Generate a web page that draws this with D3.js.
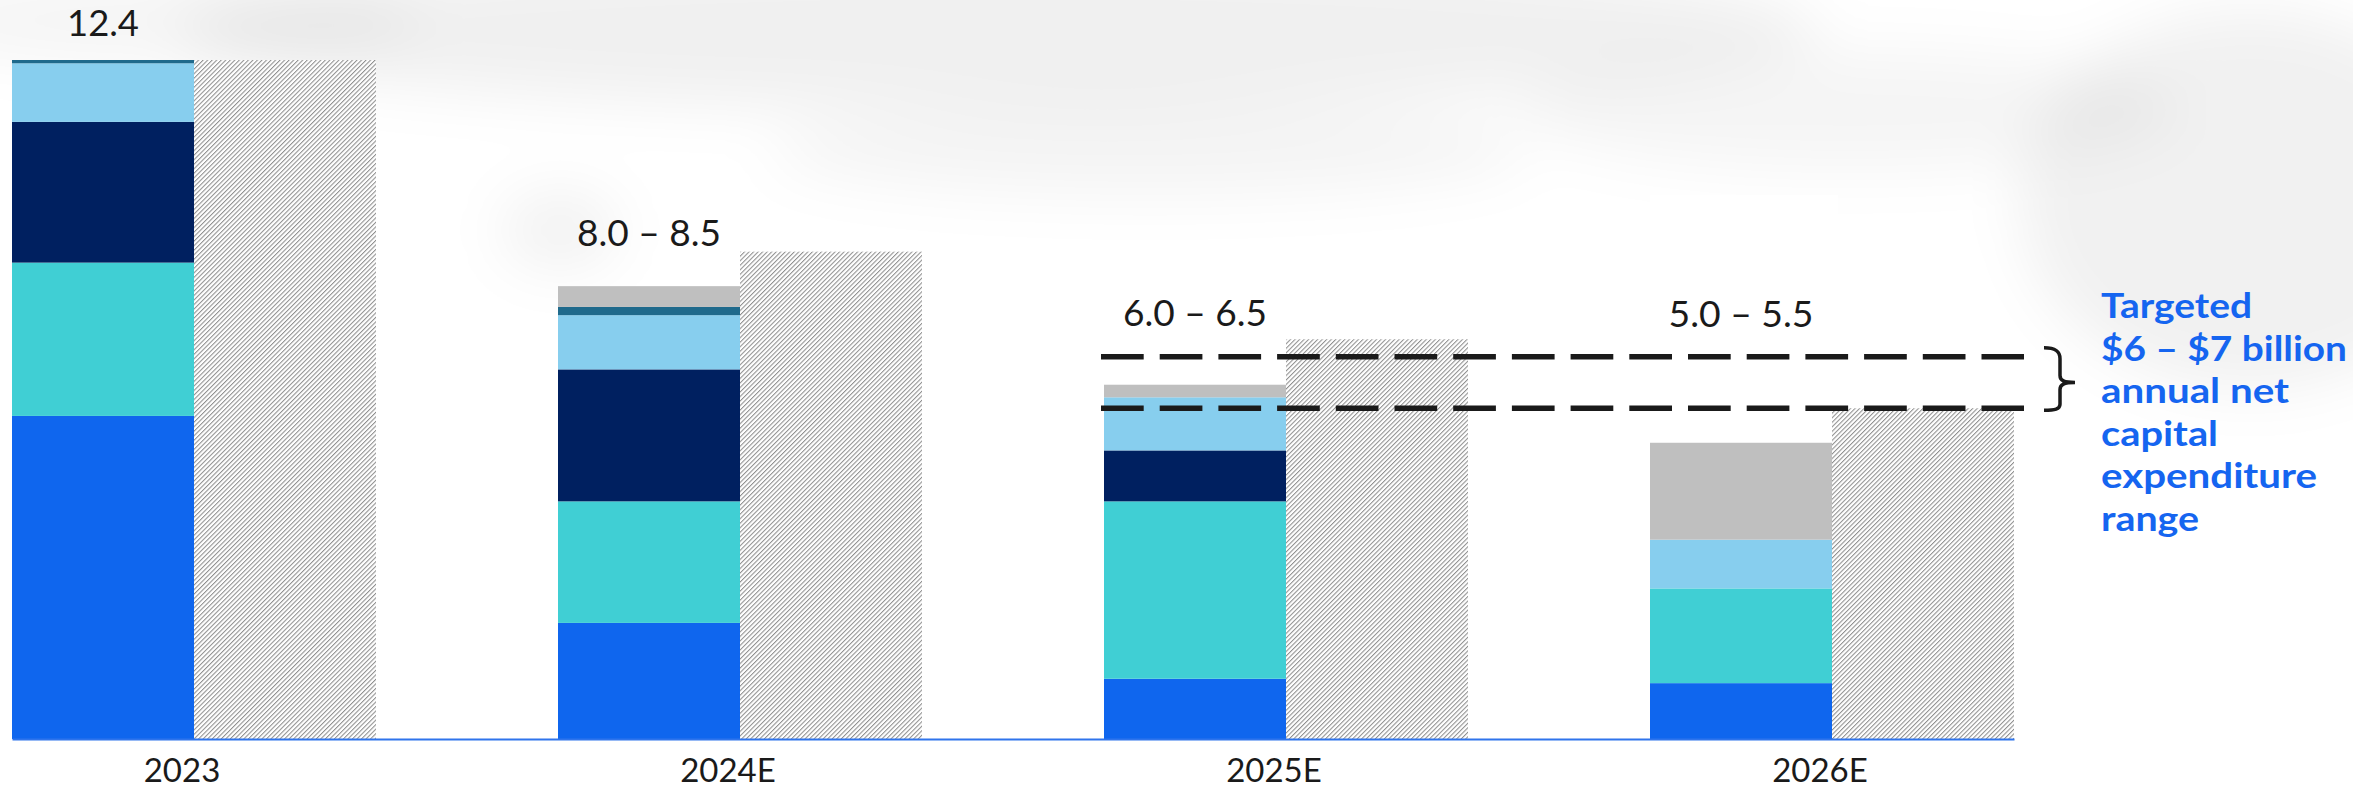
<!DOCTYPE html>
<html>
<head>
<meta charset="utf-8">
<script src="https://cdn.jsdelivr.net/npm/d3@7"></script>
<style>
  html, body { margin: 0; padding: 0; background: #fff; }
  svg { display: block; }
</style>
</head>
<body>
<svg id="chart" width="2353" height="789"></svg>
<script>
// ---------------- DATA ----------------
const categories = ["2023", "2024E", "2025E", "2026E"];
const seriesNames = ["Segment A", "Segment B", "Segment C", "Segment D", "Segment E", "Segment F"];
const segmentAValues = [5.90, 2.12, 1.10, 1.02];   // bright blue (bottom)
const segmentBValues = [2.80, 2.22, 3.24, 1.73];   // teal
const segmentCValues = [2.57, 2.41, 0.93, 0.00];   // navy
const segmentDValues = [1.07, 0.99, 0.97, 0.89];   // light blue
const segmentEValues = [0.06, 0.15, 0.00, 0.00];   // dark teal
const segmentFValues = [0.00, 0.38, 0.23, 1.77];   // gray (top)
const hatchedValues  = [12.4, 8.90, 7.30, 6.04];
const totalLabels = ["12.4", "8.0 \u2013 8.5", "6.0 \u2013 6.5", "5.0 \u2013 5.5"];
const targetRange = [6.04, 6.98];
const annotationLines = ["Targeted", "$6 \u2013 $7 billion", "annual net", "capital", "expenditure", "range"];

// ---------------- STYLE / LAYOUT ----------------
const colors = ["#0F66EE", "#40CFD4", "#002060", "#87CEEE", "#1F6A8C", "#BFBFBF"];
const svg = d3.select("#chart");
const baseY = 739, topY = 60;

const x = d3.scaleBand().domain(categories).range([12, 2014]).paddingInner(1 / 3).paddingOuter(0);
const xSub = d3.scaleBand().domain(["solid", "hatched"]).range([0, x.bandwidth()]);
const y = d3.scaleLinear().domain([0, 12.4]).range([baseY, topY]);

// ---------------- BACKGROUND (faint decorative swirl) ----------------
const defs = svg.append("defs");
defs.append("filter").attr("id", "blur").attr("x", "-50%").attr("y", "-50%").attr("width", "200%").attr("height", "200%")
  .append("feGaussianBlur").attr("stdDeviation", 28);
const hatch = defs.append("pattern").attr("id", "hatch").attr("patternUnits", "userSpaceOnUse")
  .attr("width", 3.2).attr("height", 10).attr("patternTransform", "rotate(45)");
hatch.append("rect").attr("width", 3.2).attr("height", 10).attr("fill", "#ffffff");
hatch.append("rect").attr("width", 1.05).attr("height", 10).attr("fill", "#8f8f8f");

const bg = svg.append("g").attr("filter", "url(#blur)");
const blobs = [
  [1000, 30, 820, 80, 0.06],
  [1150, 150, 380, 45, 0.045],
  [1850, 110, 330, 60, 0.04],
  [2250, 200, 230, 190, 0.055],
  [160, 20, 260, 45, 0.04],
  [560, 230, 60, 40, 0.05]
];
bg.selectAll("ellipse").data(blobs).join("ellipse")
  .attr("cx", d => d[0]).attr("cy", d => d[1]).attr("rx", d => d[2]).attr("ry", d => d[3])
  .attr("fill", "#000").attr("fill-opacity", d => d[4]);

// white box behind the last label
svg.append("rect").attr("x", 1650).attr("y", 195).attr("width", 188).attr("height", 145).attr("fill", "#fff");

// ---------------- BARS ----------------
const table = categories.map((c, i) => ({
  category: c,
  [seriesNames[0]]: segmentAValues[i],
  [seriesNames[1]]: segmentBValues[i],
  [seriesNames[2]]: segmentCValues[i],
  [seriesNames[3]]: segmentDValues[i],
  [seriesNames[4]]: segmentEValues[i],
  [seriesNames[5]]: segmentFValues[i]
}));
const stacked = d3.stack().keys(seriesNames)(table);

svg.append("g").selectAll("g").data(stacked).join("g")
  .attr("fill", (d, i) => colors[i])
  .selectAll("rect").data(d => d).join("rect")
  .attr("x", d => x(d.data.category) + xSub("solid"))
  .attr("width", xSub.bandwidth())
  .attr("y", d => y(d[1]))
  .attr("height", d => y(d[0]) - y(d[1]));

svg.append("g").selectAll("rect").data(categories).join("rect")
  .attr("x", c => x(c) + xSub("hatched"))
  .attr("width", xSub.bandwidth())
  .attr("y", (c, i) => y(hatchedValues[i]))
  .attr("height", (c, i) => y(0) - y(hatchedValues[i]))
  .attr("fill", "url(#hatch)");

// ---------------- AXIS ----------------
const axis = svg.append("g").attr("transform", `translate(0,${baseY})`)
  .call(d3.axisBottom(x).tickSize(0).tickSizeOuter(0));
axis.select(".domain").attr("stroke", "#2F74EC").attr("stroke-width", 2.2);
axis.selectAll(".tick text")
  .attr("y", 43).attr("dy", 0).attr("dx", -12)
  .attr("font-family", "Lato, 'Open Sans', sans-serif").attr("font-size", 33)
  .attr("fill", "#1a1a1a");

// ---------------- TOTAL LABELS ----------------
const labelBaselines = [36, 246, 326, 327];
const labelWidths = [72, 144, 144, 145];
svg.append("g").selectAll("text").data(totalLabels).join("text")
  .attr("x", (d, i) => x(categories[i]) + xSub("solid") + xSub.bandwidth() / 2)
  .attr("y", (d, i) => labelBaselines[i])
  .attr("text-anchor", "middle")
  .attr("font-family", "Lato, 'Open Sans', sans-serif").attr("font-size", 36.5)
  .attr("fill", "#1a1a1a")
  .attr("textLength", (d, i) => labelWidths[i]).attr("lengthAdjust", "spacingAndGlyphs")
  .text(d => d);

// ---------------- TARGET RANGE ----------------
const dashX0 = x("2025E") - 3, dashX1 = 2024;
svg.append("g").selectAll("line").data(targetRange).join("line")
  .attr("x1", dashX0).attr("x2", dashX1)
  .attr("y1", d => y(d)).attr("y2", d => y(d))
  .attr("stroke", "#1a1a1a").attr("stroke-width", 5.5)
  .attr("stroke-dasharray", "42.7 16");

const yHi = y(targetRange[1]), yLo = y(targetRange[0]), yMid = (yHi + yLo) / 2;
svg.append("path")
  .attr("d", `M2044,${yHi - 9} C2055,${yHi - 9} 2060,${yHi - 6} 2060,${yHi + 2} L2060,${yMid - 7}
    C2060,${yMid - 2} 2064,${yMid} 2075,${yMid} C2064,${yMid} 2060,${yMid + 2} 2060,${yMid + 7}
    L2060,${yLo - 4} C2060,${yLo + 1} 2055,${yLo + 2} 2044,${yLo + 2}`)
  .attr("fill", "none").attr("stroke", "#1a1a1a").attr("stroke-width", 3.5);

// ---------------- ANNOTATION ----------------
const annWidths = [151, 246, 188, 117, 216, 98];
svg.append("g").selectAll("text").data(annotationLines).join("text")
  .attr("x", 2101)
  .attr("y", (d, i) => 318 + i * 42.5)
  .attr("font-family", "Lato, 'Open Sans', sans-serif").attr("font-weight", 700).attr("font-size", 35)
  .attr("fill", "#1565F0")
  .attr("textLength", (d, i) => annWidths[i]).attr("lengthAdjust", "spacingAndGlyphs")
  .text(d => d);
</script>
</body>
</html>
